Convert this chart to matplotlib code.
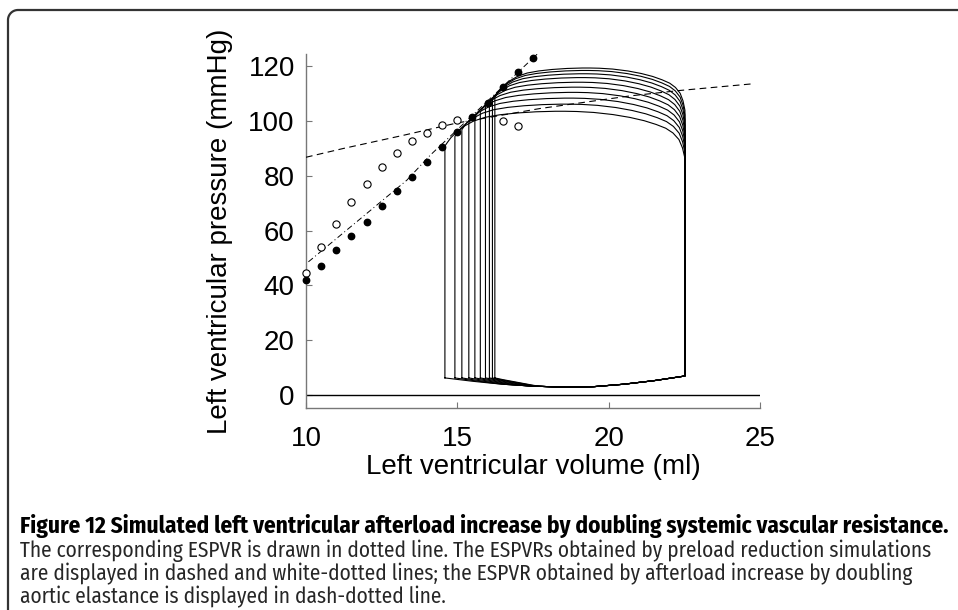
import numpy as np
import matplotlib
matplotlib.use("Agg")
from matplotlib import pyplot as plt

plt.rcParams['font.family'] = ['Liberation Sans', 'DejaVu Sans']

# ESPVR of the afterload simulation (filled dots, "dotted line")
espvr_v = [10, 10.5, 11, 11.5, 12, 12.5, 13, 13.5, 14, 14.5, 15, 15.5, 16, 16.5, 17, 17.5]
espvr_p = [41.8, 47.0, 52.8, 58.1, 63.3, 69.0, 74.3, 79.6, 85.2, 90.6, 95.9, 101.5, 106.7, 112.4, 117.9, 123.2]
# ESPVR from preload reduction (white dots)
pre_v = [10, 10.5, 11, 11.5, 12, 12.5, 13, 13.5, 14, 14.5, 15, 16.5, 17]
pre_p = [44.6, 54.0, 62.5, 70.3, 77.2, 83.3, 88.5, 92.6, 95.8, 98.7, 100.3, 99.9, 98.2]
# ESPVR from preload reduction (dashed)
dash_v = [10, 11.23, 13.21, 14.98, 17.73, 20.7, 22.36, 24.83]
dash_p = [86.8, 90.0, 94.8, 99.3, 104.6, 109.2, 111.2, 113.7]
# ESPVR from doubling aortic elastance (dash-dotted)
ea_v = [10.08, 13.33, 14.1, 17.67]
ea_p = [48.6, 78.4, 87.5, 124.8]

# pressure-volume loops
loop_esv = [14.59, 14.92, 15.15, 15.38, 15.58, 15.76, 15.93, 16.06, 16.16, 16.24]
loop_pes = [90.9, 94.4, 96.9, 99.4, 101.5, 103.4, 105.2, 106.6, 107.7, 108.6]
loop_pmax = [103.6, 106.2, 108.4, 110.5, 112.4, 114.2, 115.9, 117.3, 118.5, 119.4]
loop_pop = [86.4, 88.5, 90.5, 92.5, 94.5, 96.5, 98.5, 100.5, 102.3, 104.0]
edv = 22.52
p_start = 6.2
# ejection outline (fraction of stroke volume from ES -> fraction of pressure rise)
ej_u = [0, 0.01, 0.025, 0.05, 0.08, 0.12, 0.17, 0.23, 0.3, 0.38, 0.46, 0.5,
        0.55, 0.62, 0.7, 0.77, 0.83, 0.88, 0.92, 0.95, 0.975, 0.99, 1.0]
ej_w = [0, 0.10, 0.24, 0.41, 0.57, 0.72, 0.83, 0.9, 0.95, 0.985, 1.0, 1.0,
        0.995, 0.975, 0.93, 0.87, 0.8, 0.72, 0.64, 0.54, 0.40, 0.22, 0]
# filling curve
fill_v = [14.59, 15.5, 16.5, 17.5, 18.6, 19.5, 20.5, 21.5, 22.52]
fill_p = [6.0, 4.9, 3.9, 3.2, 2.8, 3.0, 3.9, 5.2, 6.9]

cap_title = "Figure 12 Simulated left ventricular afterload increase by doubling systemic vascular resistance."
cap_lines = ["The corresponding ESPVR is drawn in dotted line. The ESPVRs obtained by preload reduction simulations",
             "are displayed in dashed and white-dotted lines; the ESPVR obtained by afterload increase by doubling",
             "aortic elastance is displayed in dash-dotted line."]

fig = plt.figure(figsize=(9.58, 6.10), dpi=100)

# frame + caption
bg = fig.add_axes([0, 0, 1, 1])
bg.set_xlim(0, 958)
bg.set_ylim(610, 0)
bg.axis('off')
t = np.linspace(np.pi, 1.5 * np.pi, 20)
r = 10
fx = np.concatenate([[8], 8 + r + r * np.cos(t), [958]])
fy = np.concatenate([[610], 10 + r + r * np.sin(t), [10]])
bg.plot(fx, fy, color='#333333', lw=1.6, solid_capstyle='butt')

cap_font = ['Fira Sans Condensed', 'Open Sans Condensed', 'Liberation Sans', 'DejaVu Sans']
renderer = fig.canvas.get_renderer()


def fit_text(y, s, target_w, **kw):
    tx = bg.text(20, y, s, family=cap_font, fontsize=14, va='center', ha='left', **kw)
    w = tx.get_window_extent(renderer).width
    tx.set_fontsize(14 * target_w / w)
    return tx


title = fit_text(526, cap_title, 928, fontweight='bold', color='black')
first = fit_text(551, cap_lines[0], 915, color='#262626')
for i, s in enumerate(cap_lines[1:]):
    bg.text(20, 574 + 23 * i, s, family=cap_font, fontsize=first.get_fontsize(),
            color='#262626', va='center', ha='left')

# main chart
ax = fig.add_axes([0.3194, 0.3311, 0.4739, 0.5803])
ax.set_xlim(10, 25)
ax.set_ylim(-4.8, 124.5)
ax.axhline(0, color='black', lw=1.0)

u = np.array(ej_u)
w = np.array(ej_w)
for esv, pes, pmax, pop in zip(loop_esv, loop_pes, loop_pmax, loop_pop):
    v_ej = esv + u * (edv - esv)
    p_ej = np.where(u <= 0.5, pes + (pmax - pes) * w, pop + (pmax - pop) * w)
    v_f = np.linspace(esv, edv, 80)
    base = np.interp(v_f, fill_v, fill_p)
    p_f = base + (p_start - np.interp(esv, fill_v, fill_p)) * np.clip(1 - (v_f - esv) / 1.5, 0, 1)
    vv = np.concatenate([v_f, v_ej[::-1], [esv]])
    pp = np.concatenate([p_f, p_ej[::-1], [p_f[0]]])
    ax.plot(vv, pp, color='black', lw=0.8, zorder=2)

ax.plot(dash_v, dash_p, color='black', lw=0.8, dashes=(6, 4), zorder=3)
ax.plot(ea_v, ea_p, color='black', lw=0.7, dashes=(6, 3, 1, 3), zorder=3)
ax.plot(pre_v, pre_p, 'o', ms=5.2, mfc='white', mec='black', mew=0.8, zorder=4, clip_on=False)
ax.plot(espvr_v, espvr_p, 'o', ms=4.6, color='black', zorder=5, clip_on=False)

for side in ['top', 'right']:
    ax.spines[side].set_visible(False)
for side in ['left', 'bottom']:
    ax.spines[side].set_color('#777777')
    ax.spines[side].set_linewidth(1.0)
ax.set_xticks([10, 15, 20, 25])
ax.set_yticks([0, 20, 40, 60, 80, 100, 120])
ax.tick_params(direction='in', length=4, color='#777777', labelsize=20)
ax.tick_params(axis='x', pad=13)
ax.tick_params(axis='y', pad=8)
ax.set_xlabel("Left ventricular volume (ml)", fontsize=20)
ax.set_ylabel("Left ventricular pressure (mmHg)", fontsize=20)
ax.xaxis.set_label_coords(0.5, -0.13)
ax.yaxis.set_label_coords(-0.161, 0.5)

fig.savefig("out.png", dpi=100)
